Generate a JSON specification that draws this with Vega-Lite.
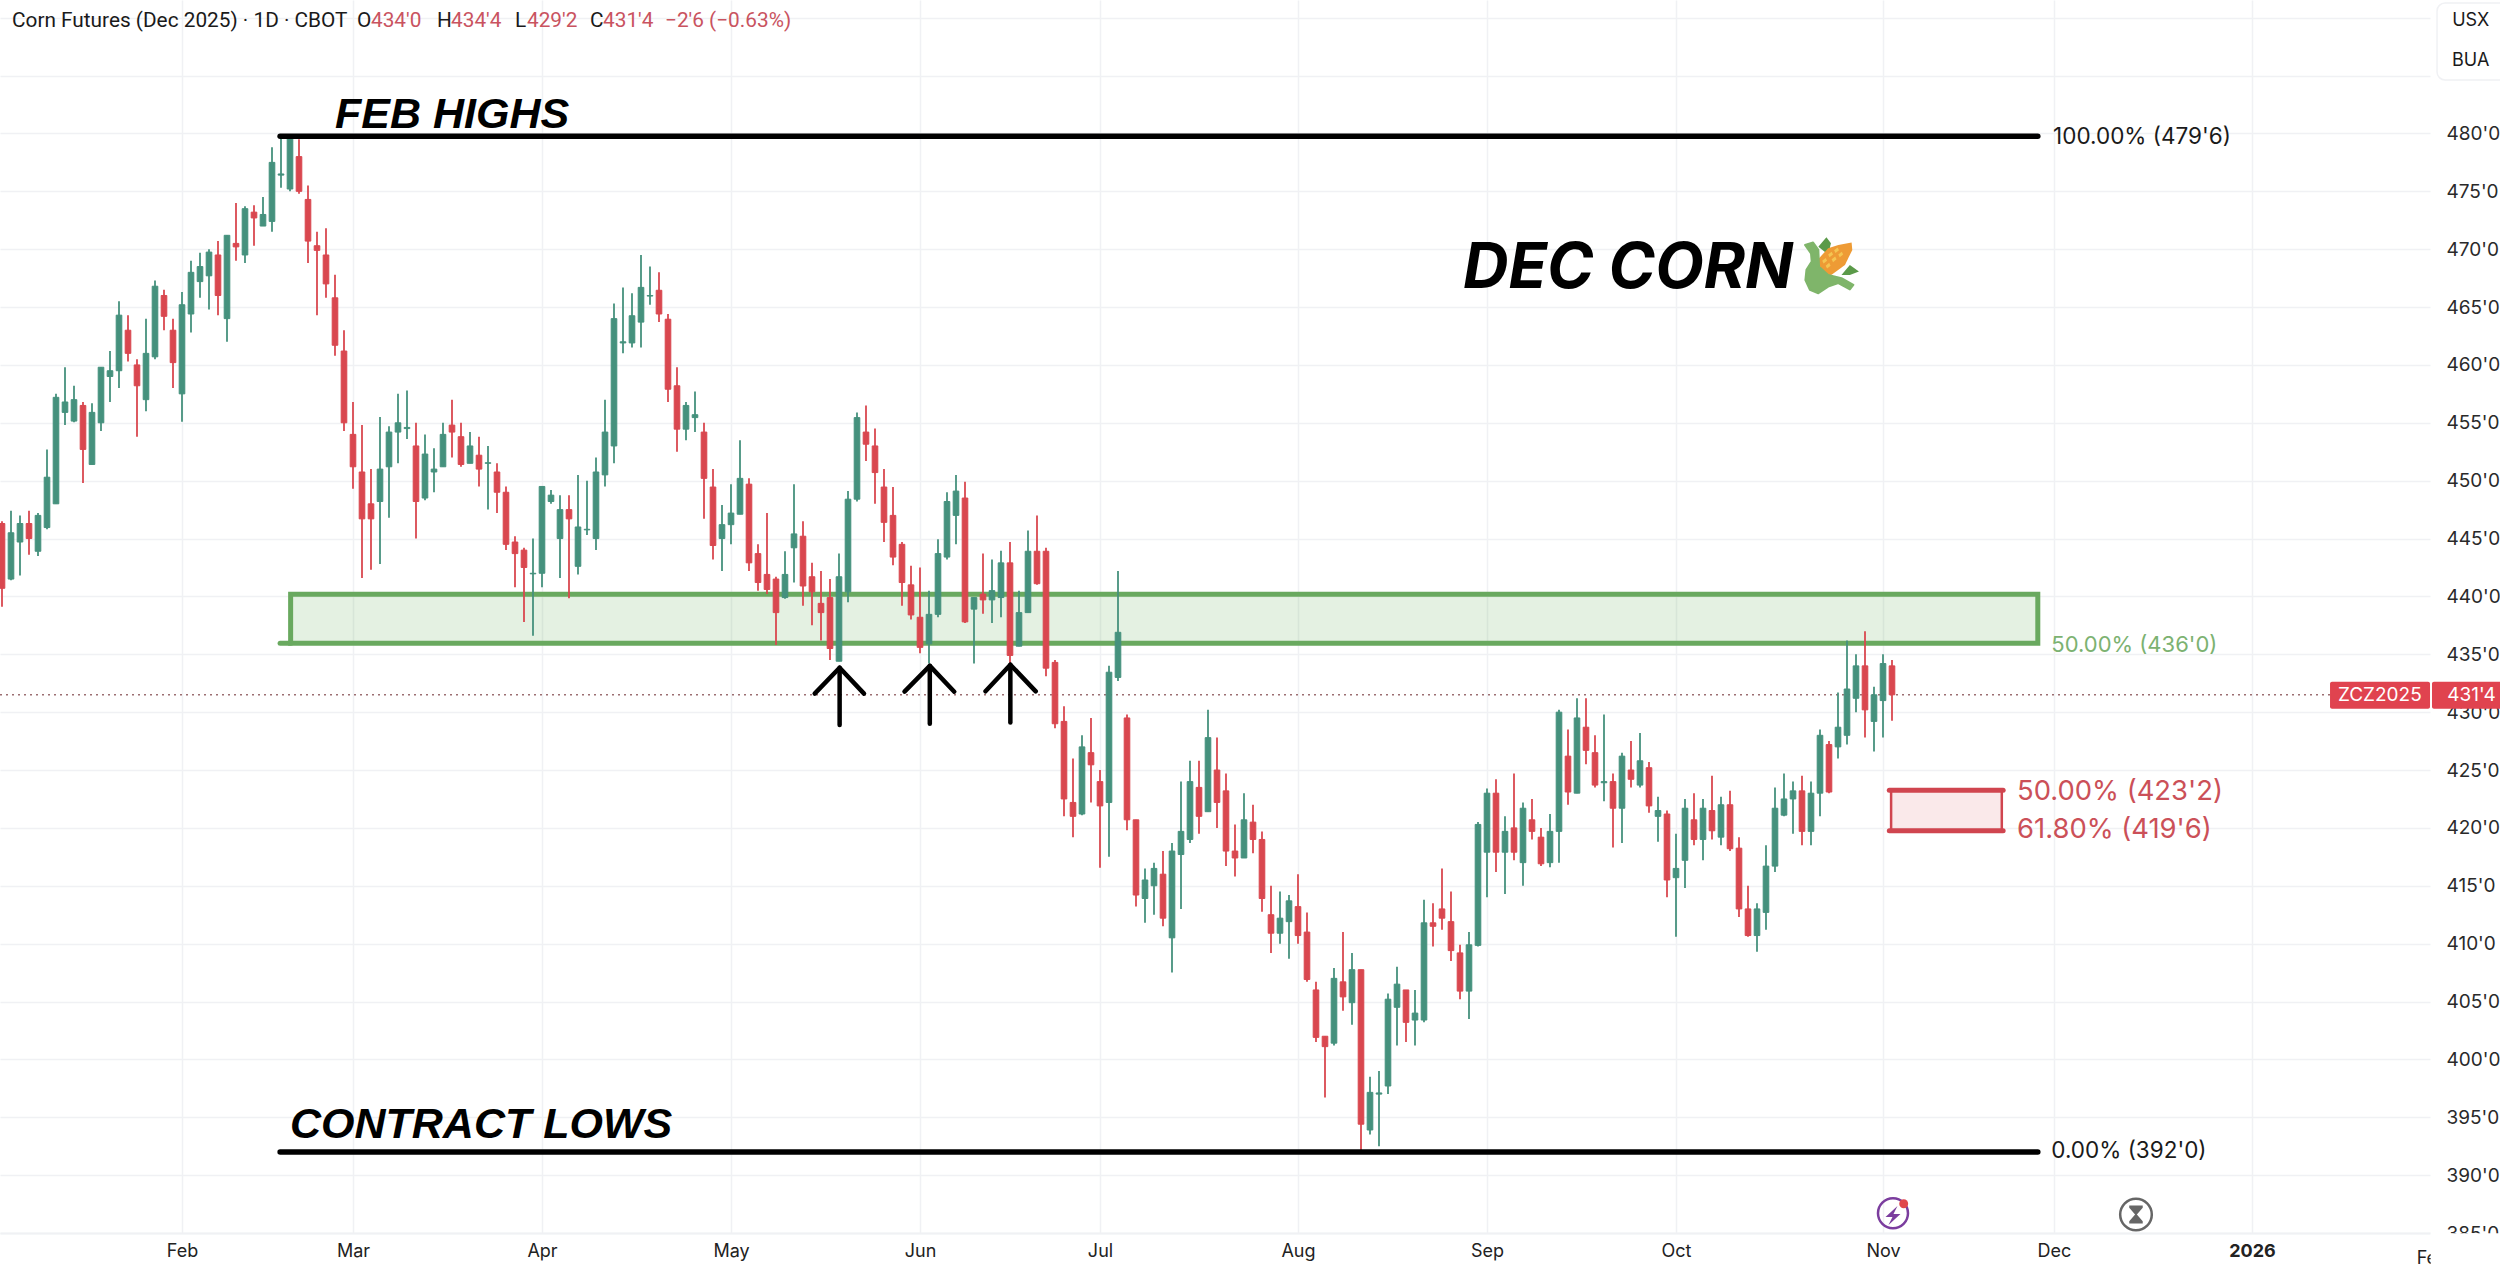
{"$schema":"https://vega.github.io/schema/vega-lite/v6.json","width":2430,"height":1233,"autosize":{"type":"none"},"padding":{"left":0,"top":0,"right":70,"bottom":43},"background":"white","view":{"stroke":null},
"encoding":{
"x":{"type":"quantitative","scale":{"domain":[-0.222,269.778],"nice":false,"zero":false,"padding":0},"axis":{"title":null,"values":[20,39,60,81,102,122,144,165,186,209,228,250],"labelExpr":"{'20':'Feb','39':'Mar','60':'Apr','81':'May','102':'Jun','122':'Jul','144':'Aug','165':'Sep','186':'Oct','209':'Nov','228':'Dec','250':'2026'}[datum.value]","grid":true,"gridColor":"#f0f1f4","gridWidth":1.5,"domainColor":"#f0f1f4","domainWidth":2,"ticks":false,"labelFont":"Inter","labelFontSize":18,"labelColor":"#222222","labelPadding":18,"labelBaseline":"middle","labelOverlap":false,"labelFontWeight":{"condition":{"test":"datum.value===250","value":"bold"},"value":"normal"},"labelFlush":false}},
"y":{"type":"quantitative","scale":{"domain":[385,491.53],"nice":false,"zero":false},"axis":{"orient":"right","title":null,"values":[385,390,395,400,405,410,415,420,425,430,435,440,445,450,455,460,465,470,475,480,485,490],"labelExpr":"datum.value>480?'':datum.value+\"'0\"","grid":true,"gridColor":"#f0f1f4","gridWidth":1.5,"domain":false,"ticks":false,"labelFont":"Inter","labelFontSize":19,"labelColor":"#2a2a2a","labelAlign":"left","labelPadding":16,"labelOverlap":false,"labelFlush":false}}},
"datasets":{"candles":[
{"i":0,"o":446.3,"h":446.5,"l":439.1,"c":440.7},{"i":1,"o":441.5,"h":447.4,"l":441.4,"c":445.5},{"i":2,"o":444.7,"h":447,"l":441.8,"c":446.3},{"i":3,"o":446.3,"h":447.4,"l":443.6,"c":445},{"i":4,"o":443.9,"h":447.2,"l":443.5,"c":447},{"i":5,"o":445.95,"h":452.7,"l":445.8,"c":450.3},{"i":6,"o":448,"h":457.5,"l":448,"c":457.2},{"i":7,"o":455.9,"h":459.8,"l":454.8,"c":456.8},{"i":8,"o":455.15,"h":458.2,"l":455.05,"c":457},{"i":9,"o":456.5,"h":456.8,"l":449.8,"c":452.7},
{"i":10,"o":451.4,"h":456.7,"l":451.4,"c":455.9},{"i":11,"o":455,"h":459.8,"l":454.3,"c":459.8},{"i":12,"o":459,"h":461.2,"l":456.8,"c":459.5},{"i":13,"o":459.5,"h":465.5,"l":458,"c":464.3},{"i":14,"o":463,"h":464.3,"l":460.3,"c":461},{"i":15,"o":460,"h":460.5,"l":453.8,"c":458.2},{"i":16,"o":457,"h":464,"l":456,"c":461},{"i":17,"o":460.7,"h":467.3,"l":460.5,"c":466.8},{"i":18,"o":466,"h":466.5,"l":463,"c":464.2},{"i":19,"o":463,"h":464,"l":458,"c":460.2},
{"i":20,"o":457.5,"h":466.3,"l":455.1,"c":465.2},{"i":21,"o":464.4,"h":469,"l":462.8,"c":468},{"i":22,"o":467.2,"h":469.7,"l":465.8,"c":468.5},{"i":23,"o":467.7,"h":470,"l":464.8,"c":469.75},{"i":24,"o":469.5,"h":470.7,"l":464.3,"c":466},{"i":25,"o":464,"h":471.2,"l":462,"c":471.2},{"i":26,"o":470.5,"h":474,"l":469,"c":470.2},{"i":27,"o":469.5,"h":473.7,"l":468.8,"c":473.5},{"i":28,"o":473.2,"h":473.8,"l":470.3,"c":472.7},{"i":29,"o":472,"h":474.5,"l":472,"c":473},
{"i":30,"o":472.4,"h":478.8,"l":471.5,"c":477.5},{"i":31,"o":476.4,"h":479.75,"l":475.3,"c":476.5},{"i":32,"o":475.2,"h":479.75,"l":475,"c":479.6},{"i":33,"o":478,"h":479.5,"l":474.8,"c":475},{"i":34,"o":474.3,"h":475.5,"l":468.8,"c":470.7},{"i":35,"o":470.3,"h":471.5,"l":464.3,"c":469.9},{"i":36,"o":469.5,"h":471.8,"l":465.8,"c":467},{"i":37,"o":465.8,"h":467.8,"l":460.8,"c":461.7},{"i":38,"o":461.2,"h":463,"l":454.3,"c":455},{"i":39,"o":454,"h":456.8,"l":449.3,"c":451.2},
{"i":40,"o":450.75,"h":454.8,"l":441.6,"c":446.7},{"i":41,"o":448,"h":451,"l":442.3,"c":446.7},{"i":42,"o":448.2,"h":455.5,"l":442.8,"c":451},{"i":43,"o":451.2,"h":454.7,"l":446.8,"c":454.2},{"i":44,"o":454.2,"h":457.5,"l":451.5,"c":455},{"i":45,"o":454.5,"h":457.8,"l":453.6,"c":454.6},{"i":46,"o":453,"h":455,"l":445,"c":448.2},{"i":47,"o":448.5,"h":454,"l":448.3,"c":452.3},{"i":48,"o":450.75,"h":452.8,"l":449,"c":451},{"i":49,"o":451.2,"h":455,"l":451.2,"c":454},
{"i":50,"o":454.8,"h":457,"l":452,"c":454.2},{"i":51,"o":453.8,"h":455,"l":451.2,"c":451.4},{"i":52,"o":451.5,"h":454.2,"l":451.5,"c":453},{"i":53,"o":452.2,"h":453.8,"l":449.5,"c":451},{"i":54,"o":451.5,"h":453,"l":447.5,"c":451.55},{"i":55,"o":450.75,"h":451.5,"l":447.2,"c":449},{"i":56,"o":449,"h":449.5,"l":444,"c":444.5},{"i":57,"o":444.7,"h":445.2,"l":440.8,"c":443.7},{"i":58,"o":444,"h":444.2,"l":437.8,"c":442.5},{"i":59,"o":441.95,"h":445,"l":436.6,"c":442},
{"i":60,"o":442,"h":449.5,"l":440.8,"c":449.5},{"i":61,"o":448.2,"h":449.2,"l":448,"c":448.75},{"i":62,"o":445,"h":448.75,"l":441.6,"c":447.5},{"i":63,"o":447.5,"h":448.75,"l":439.85,"c":446.7},{"i":64,"o":442.6,"h":450.5,"l":441.9,"c":446},{"i":65,"o":445.75,"h":450,"l":445.3,"c":445.8},{"i":66,"o":445,"h":452,"l":444,"c":450.75},{"i":67,"o":450.5,"h":457,"l":449.5,"c":454.2},{"i":68,"o":453,"h":465.3,"l":451.5,"c":464},{"i":69,"o":461.9,"h":466.7,"l":461,"c":462},
{"i":70,"o":461.9,"h":466.2,"l":461.5,"c":464.25},{"i":71,"o":463.7,"h":469.5,"l":461.5,"c":466.7},{"i":72,"o":465.95,"h":468.5,"l":465.2,"c":466},{"i":73,"o":466.45,"h":468,"l":463.7,"c":464.4},{"i":74,"o":463.95,"h":464.4,"l":456.8,"c":457.9},{"i":75,"o":458.2,"h":459.8,"l":452.5,"c":454.45},{"i":76,"o":454.45,"h":456.8,"l":453.5,"c":456.5},{"i":77,"o":455.45,"h":457.7,"l":454.2,"c":455.7},{"i":78,"o":454.2,"h":455,"l":446.7,"c":450.2},{"i":79,"o":449.45,"h":451,"l":443.2,"c":444.4},
{"i":80,"o":445,"h":447.9,"l":442.2,"c":446.2},{"i":81,"o":446.2,"h":449.7,"l":444.5,"c":447.2},{"i":82,"o":447.1,"h":453.5,"l":447.1,"c":450.2},{"i":83,"o":449.7,"h":450.2,"l":442.2,"c":442.9},{"i":84,"o":443.7,"h":444.5,"l":440.5,"c":441.2},{"i":85,"o":441.9,"h":447.2,"l":440.2,"c":440.6},{"i":86,"o":441.5,"h":441.7,"l":435.8,"c":438.6},{"i":87,"o":439.9,"h":443.9,"l":439.8,"c":441.9},{"i":88,"o":444.2,"h":449.7,"l":441.2,"c":445.4},{"i":89,"o":445.2,"h":446.5,"l":439.2,"c":440.9},
{"i":90,"o":441.7,"h":442.9,"l":437.5,"c":440.4},{"i":91,"o":439.4,"h":442.2,"l":436.2,"c":438.6},{"i":92,"o":439.9,"h":441.5,"l":434.5,"c":435.5},{"i":93,"o":434.4,"h":443.7,"l":434.4,"c":441.7},{"i":94,"o":440.4,"h":449.1,"l":439.5,"c":448.4},{"i":95,"o":448.4,"h":455.9,"l":448.2,"c":455.45},{"i":96,"o":454.2,"h":456.5,"l":451.7,"c":453.15},{"i":97,"o":453,"h":454.5,"l":448,"c":450.7},{"i":98,"o":449.45,"h":451,"l":444.7,"c":446.4},{"i":99,"o":447,"h":449.45,"l":442.7,"c":443.4},
{"i":100,"o":444.5,"h":444.7,"l":439.2,"c":441.2},{"i":101,"o":441,"h":442.65,"l":438,"c":438.4},{"i":102,"o":438.2,"h":442.5,"l":435.1,"c":435.6},{"i":103,"o":435.9,"h":440.5,"l":434.2,"c":438.45},{"i":104,"o":438.45,"h":444.95,"l":438.2,"c":443.7},{"i":105,"o":443.4,"h":449,"l":443.2,"c":448.2},{"i":106,"o":447,"h":450.5,"l":444.5,"c":449.1},{"i":107,"o":448.5,"h":449.9,"l":437.7,"c":437.8},{"i":108,"o":438.9,"h":439.9,"l":434.2,"c":439.9},{"i":109,"o":440.2,"h":443.7,"l":438.5,"c":439.7},
{"i":110,"o":439.7,"h":443.2,"l":437.7,"c":440.5},{"i":111,"o":439.9,"h":443.95,"l":438.2,"c":442.9},{"i":112,"o":442.9,"h":444.7,"l":434,"c":434.9},{"i":113,"o":435.7,"h":440.5,"l":435.7,"c":438.6},{"i":114,"o":438.6,"h":445.7,"l":438.6,"c":443.9},{"i":115,"o":443.9,"h":447,"l":441,"c":441.1},{"i":116,"o":443.9,"h":444.2,"l":433.1,"c":433.8},{"i":117,"o":434.3,"h":434.5,"l":428.6,"c":429},{"i":118,"o":429.2,"h":430.5,"l":421,"c":422.5},{"i":119,"o":422.2,"h":426,"l":419.2,"c":421},
{"i":120,"o":421.2,"h":428,"l":421.1,"c":427},{"i":121,"o":426.5,"h":429.5,"l":422.2,"c":425.45},{"i":122,"o":424,"h":425,"l":416.55,"c":421.9},{"i":123,"o":422.2,"h":434,"l":417.5,"c":433.45},{"i":124,"o":433,"h":442.2,"l":432.7,"c":436.9},{"i":125,"o":429.5,"h":429.8,"l":419.8,"c":420.7},{"i":126,"o":420.7,"h":420.7,"l":413.2,"c":414.2},{"i":127,"o":413.9,"h":416.5,"l":411.8,"c":415.5},{"i":128,"o":415,"h":417,"l":412.5,"c":416.5},{"i":129,"o":416,"h":418,"l":411.5,"c":412.2},
{"i":130,"o":410.5,"h":418.7,"l":407.5,"c":418},{"i":131,"o":417.7,"h":424,"l":413,"c":419.7},{"i":132,"o":419,"h":425.8,"l":418.7,"c":424},{"i":133,"o":423.5,"h":425.8,"l":419.5,"c":421},{"i":134,"o":421.4,"h":430.2,"l":421.4,"c":427.8},{"i":135,"o":425,"h":427.8,"l":420,"c":422.2},{"i":136,"o":423.2,"h":424.7,"l":416.7,"c":418},{"i":137,"o":418,"h":420.3,"l":415.8,"c":417.4},{"i":138,"o":417.4,"h":423,"l":417.4,"c":420.7},{"i":139,"o":420.5,"h":422,"l":417.8,"c":419},
{"i":140,"o":419,"h":419.7,"l":412.75,"c":413.9},{"i":141,"o":412.5,"h":415,"l":409.2,"c":410.9},{"i":142,"o":410.9,"h":414.5,"l":410,"c":412.2},{"i":143,"o":411.9,"h":414.2,"l":408.7,"c":413.7},{"i":144,"o":413.2,"h":416,"l":410,"c":410.7},{"i":145,"o":411,"h":412.7,"l":406.7,"c":406.9},{"i":146,"o":406,"h":406.7,"l":401.5,"c":401.9},{"i":147,"o":402,"h":402,"l":396.7,"c":401.1},{"i":148,"o":401.4,"h":407.9,"l":401.2,"c":407},{"i":149,"o":406.7,"h":411,"l":404.2,"c":405.4},
{"i":150,"o":404.9,"h":409.2,"l":403,"c":407.75},{"i":151,"o":407.75,"h":407.75,"l":392,"c":394.4},{"i":152,"o":393.9,"h":398.5,"l":393.5,"c":397.15},{"i":153,"o":397,"h":399,"l":392.5,"c":397.1},{"i":154,"o":397.7,"h":405.7,"l":397,"c":405.2},{"i":155,"o":404.5,"h":408,"l":401.2,"c":406.5},{"i":156,"o":406,"h":406,"l":401.5,"c":403.2},{"i":157,"o":403.4,"h":406,"l":401.2,"c":404},{"i":158,"o":403.4,"h":413.8,"l":403.2,"c":411.8},{"i":159,"o":411.8,"h":413.5,"l":409.75,"c":411.5},
{"i":160,"o":413,"h":416.5,"l":411.2,"c":412.2},{"i":161,"o":411.9,"h":414.5,"l":408.5,"c":409.4},{"i":162,"o":409.2,"h":409.9,"l":405.2,"c":405.9},{"i":163,"o":405.9,"h":411,"l":403.5,"c":409.9},{"i":164,"o":409.85,"h":420.5,"l":409.75,"c":420.3},{"i":165,"o":417.9,"h":423.4,"l":414,"c":423},{"i":166,"o":423,"h":424.2,"l":416.2,"c":417.9},{"i":167,"o":417.9,"h":421,"l":414.3,"c":419.7},{"i":168,"o":420,"h":424.7,"l":417.2,"c":417.9},{"i":169,"o":417,"h":422.2,"l":415,"c":421.7},
{"i":170,"o":420.7,"h":422.5,"l":419,"c":419.7},{"i":171,"o":419.2,"h":420,"l":416.7,"c":416.9},{"i":172,"o":417,"h":421.2,"l":416.6,"c":419.7},{"i":173,"o":419.7,"h":430.2,"l":417,"c":430},{"i":174,"o":426.2,"h":428.5,"l":422,"c":423.1},{"i":175,"o":423,"h":431.2,"l":423,"c":429.5},{"i":176,"o":428.7,"h":431.2,"l":425.5,"c":426.7},{"i":177,"o":426.5,"h":428,"l":423.5,"c":423.7},{"i":178,"o":423.9,"h":429.8,"l":422.3,"c":424},{"i":179,"o":424,"h":424.7,"l":418.3,"c":421.7},
{"i":180,"o":421.7,"h":426.5,"l":418.7,"c":426.2},{"i":181,"o":425,"h":427.5,"l":423.5,"c":424.2},{"i":182,"o":423.7,"h":428.2,"l":423.5,"c":425.8},{"i":183,"o":425.2,"h":425.7,"l":421.3,"c":421.9},{"i":184,"o":421,"h":422.7,"l":418.8,"c":421.5},{"i":185,"o":421.2,"h":421.5,"l":414,"c":415.5},{"i":186,"o":415.7,"h":419.5,"l":410.6,"c":416.5},{"i":187,"o":417.2,"h":422.5,"l":414.8,"c":421.7},{"i":188,"o":420.7,"h":423,"l":418.5,"c":419},{"i":189,"o":419,"h":422.5,"l":417.2,"c":421.7},
{"i":190,"o":421.5,"h":424.5,"l":419,"c":419.75},{"i":191,"o":419.2,"h":422.7,"l":418.5,"c":422},{"i":192,"o":422,"h":423.2,"l":418,"c":418.2},{"i":193,"o":418.25,"h":419.2,"l":412.3,"c":413},{"i":194,"o":413,"h":415,"l":410.6,"c":410.7},{"i":195,"o":410.7,"h":413.5,"l":409.3,"c":413},{"i":196,"o":412.7,"h":418.5,"l":411.2,"c":416.7},{"i":197,"o":416.7,"h":423.5,"l":416.2,"c":421.7},{"i":198,"o":421.1,"h":424.7,"l":421,"c":422.5},{"i":199,"o":422.5,"h":424,"l":419.5,"c":423.2},
{"i":200,"o":423.2,"h":424.5,"l":418.5,"c":419.7},{"i":201,"o":419.7,"h":424,"l":418.5,"c":423},{"i":202,"o":423,"h":428.5,"l":421,"c":428},{"i":203,"o":427.2,"h":427.5,"l":423,"c":423.1},{"i":204,"o":427,"h":431.7,"l":426,"c":428.7},{"i":205,"o":428,"h":436.2,"l":427.2,"c":432},{"i":206,"o":431.2,"h":435,"l":430,"c":434},{"i":207,"o":434,"h":437,"l":427.8,"c":430.2},{"i":208,"o":429.2,"h":432.2,"l":426.6,"c":431.5},{"i":209,"o":431,"h":435,"l":427.8,"c":434.2},
{"i":210,"o":434,"h":434.5,"l":429.25,"c":431.5}]},
"layer":[
{"data":{"values":[{"i":-0.222,"i2":258.67,"v":431.5}]},"mark":{"type":"rule","stroke":"#9c6f72","strokeWidth":1.5,"strokeDash":[2,4]},"encoding":{"x":{"field":"i"},"x2":{"field":"i2"},"y":{"field":"v"}}},
{"data":{"values":[{"i":32.07,"i2":226.2,"v":440.18,"v2":435.95}]},"mark":{"type":"rect","fill":"#5aa84a","fillOpacity":0.16,"stroke":"#69a95f","strokeWidth":5},"encoding":{"x":{"field":"i"},"x2":{"field":"i2"},"y":{"field":"v"},"y2":{"field":"v2"}}},
{"data":{"values":[{"i":30.9,"i2":32.1,"v":435.95}]},"mark":{"type":"rule","stroke":"#69a95f","strokeWidth":5,"strokeCap":"round"},"encoding":{"x":{"field":"i"},"x2":{"field":"i2"},"y":{"field":"v"}}},
{"data":{"name":"candles"},"mark":{"type":"rule","strokeWidth":1.8},"encoding":{"x":{"field":"i"},"y":{"field":"l"},"y2":{"field":"h"},"color":{"condition":{"test":"datum.c>=datum.o","value":"#45917d"},"value":"#d9474f"}}},
{"data":{"name":"candles"},"mark":{"type":"bar","size":5.6,"strokeWidth":1,"orient":"vertical"},"encoding":{"x":{"field":"i"},"y":{"field":"o"},"y2":{"field":"c"},"fill":{"condition":{"test":"datum.c>=datum.o","value":"#45917d"},"value":"#d9474f"},"stroke":{"condition":{"test":"datum.c>=datum.o","value":"#45917d"},"value":"#d9474f"}}},
{"data":{"values":[{"i":30.9,"i2":226.2,"v":479.75},{"i":30.9,"i2":226.2,"v":392}]},"mark":{"type":"rule","stroke":"#000000","strokeWidth":5.5,"strokeCap":"round"},"encoding":{"x":{"field":"i"},"x2":{"field":"i2"},"y":{"field":"v"}}},
{"data":{"values":[{"i":209.9,"i2":222.2,"v":423.25,"v2":419.75}]},"mark":{"type":"rect","fill":"#d9474f","fillOpacity":0.12,"stroke":"#d0454f","strokeWidth":2.5},"encoding":{"x":{"field":"i"},"x2":{"field":"i2"},"y":{"field":"v"},"y2":{"field":"v2"}}},
{"data":{"values":[{"i":209.7,"i2":222.35,"v":423.25},{"i":209.7,"i2":222.35,"v":419.75}]},"mark":{"type":"rule","stroke":"#d0454f","strokeWidth":5,"strokeCap":"round"},"encoding":{"x":{"field":"i"},"x2":{"field":"i2"},"y":{"field":"v"}}},
{"data":{"values":[
{"g":"a1h","s":0,"i":90.3,"v":431.6},{"g":"a1h","s":1,"i":93.07,"v":433.84},{"g":"a1h","s":2,"i":95.78,"v":431.6},{"g":"a1s","s":0,"i":93.07,"v":433.84},{"g":"a1s","s":1,"i":93.07,"v":428.9},
{"g":"a2h","s":0,"i":100.28,"v":431.77},{"g":"a2h","s":1,"i":103.09,"v":434},{"g":"a2h","s":2,"i":105.81,"v":431.77},{"g":"a2s","s":0,"i":103.09,"v":434},{"g":"a2s","s":1,"i":103.09,"v":429},
{"g":"a3h","s":0,"i":109.28,"v":431.8},{"g":"a3h","s":1,"i":112.04,"v":434.1},{"g":"a3h","s":2,"i":114.86,"v":431.8},{"g":"a3s","s":0,"i":112.04,"v":434.1},{"g":"a3s","s":1,"i":112.04,"v":429.1}]},
"mark":{"type":"line","stroke":"#000000","strokeWidth":4.5,"strokeCap":"round","strokeJoin":"round"},"encoding":{"x":{"field":"i"},"y":{"field":"v"},"detail":{"field":"g"},"order":{"field":"s"}}},
{"data":{"values":[{"t":"FEB HIGHS","i":37,"v":480.47},{"t":"CONTRACT LOWS","i":32,"v":393.2}]},"mark":{"type":"text","font":"Liberation Sans","fontWeight":"bold","fontStyle":"italic","fontSize":43,"align":"left","baseline":"alphabetic","color":"#000000"},"encoding":{"x":{"field":"i"},"y":{"field":"v"},"text":{"field":"t"}}},
{"data":{"values":[{"t":"DEC CORN","i":162.33,"v":466.66}]},"mark":{"type":"text","font":"Inter","fontWeight":"bold","fontStyle":"italic","fontSize":63,"align":"left","baseline":"alphabetic","color":"#000000"},"encoding":{"x":{"field":"i"},"y":{"field":"v"},"text":{"field":"t"}}},
{"data":{"values":[{"i":203.1,"v":468.64}]},"mark":{"type":"point","filled":true,"size":4900,"color":"#5b9a49","opacity":1,"strokeWidth":0,"shape":"M-.33 -.52 L-.1 -.79 L.03 -.62 L-.05 -.3 Z M.33 .29 L.57 0 L.83 .19 L.57 .29 Z"},"encoding":{"x":{"field":"i"},"y":{"field":"v"}}},
{"data":{"values":[{"i":203.1,"v":468.64}]},"mark":{"type":"point","filled":true,"size":4900,"color":"#ee9b35","opacity":1,"strokeWidth":0,"shape":"M-.33 .2 L-.31 -.19 L-.05 -.48 L.24 -.57 L.62 -.64 L.64 -.43 L.43 0 L.05 .28 L-.2 .32 Z"},"encoding":{"x":{"field":"i"},"y":{"field":"v"}}},
{"data":{"values":[{"i":203.1,"v":468.64}]},"mark":{"type":"point","filled":true,"size":4900,"color":"#f4c552","opacity":1,"strokeWidth":0,"shape":"M-.22 -.12 L-.12 -.2 L-.08 -.12 L-.18 -.04 Z M-.05 -.3 L.05 -.38 L.09 -.3 L-.01 -.22 Z M.12 -.42 L.22 -.5 L.26 -.42 L.16 -.34 Z M-.12 .02 L-.02 -.06 L.02 .02 L-.08 .1 Z M.05 -.16 L.15 -.24 L.19 -.16 L.09 -.08 Z M.24 -.3 L.34 -.38 L.38 -.3 L.28 -.22 Z"},"encoding":{"x":{"field":"i"},"y":{"field":"v"}}},
{"data":{"values":[{"i":203.1,"v":468.64}]},"mark":{"type":"point","filled":true,"size":4900,"fill":"#7fb56a","stroke":"#7fb56a","strokeWidth":2,"strokeJoin":"round","opacity":1,"shape":"M-.71 -.57 L-.48 -.64 L-.33 -.43 L-.31 .05 L-.05 .29 L.33 .38 L.67 .57 L.57 .7 L.24 .52 L-.05 .62 L-.33 .81 L-.57 .71 L-.7 .43 L-.67 .14 L-.52 -.1 L-.54 -.33 Z"},"encoding":{"x":{"field":"i"},"y":{"field":"v"}}},
{"data":{"values":[{"t":"100.00% (479'6)","i":227.9,"v":479.7},{"t":"0.00% (392'0)","i":227.7,"v":392.05}]},"mark":{"type":"text","font":"Inter","fontSize":22.5,"align":"left","baseline":"middle","color":"#1a1a1a"},"encoding":{"x":{"field":"i"},"y":{"field":"v"},"text":{"field":"t"}}},
{"data":{"values":[{"t":"50.00% (436'0)","i":227.7,"v":435.83}]},"mark":{"type":"text","font":"Inter","fontSize":22,"align":"left","baseline":"middle","color":"#7cb271"},"encoding":{"x":{"field":"i"},"y":{"field":"v"},"text":{"field":"t"}}},
{"data":{"values":[{"t":"50.00% (423'2)","i":223.9,"v":423.13},{"t":"61.80% (419'6)","i":223.9,"v":419.81}]},"mark":{"type":"text","font":"Inter","fontSize":27.4,"align":"left","baseline":"middle","color":"#cb5058"},"encoding":{"x":{"field":"i"},"y":{"field":"v"},"text":{"field":"t"}}},
{"data":{"values":[{"t":"Corn Futures (Dec 2025) · 1D · CBOT","i":1.11,"v":489.71},{"t":"O","i":39.44,"v":489.71},{"t":"H","i":48.33,"v":489.71},{"t":"L","i":57,"v":489.71},{"t":"C","i":65.33,"v":489.71}]},"mark":{"type":"text","font":"Roboto","fontSize":20.8,"align":"left","baseline":"middle","color":"#1a1a1a"},"encoding":{"x":{"field":"i"},"y":{"field":"v"},"text":{"field":"t"}}},
{"data":{"values":[{"t":"434'0","i":41,"v":489.71},{"t":"434'4","i":49.89,"v":489.71},{"t":"429'2","i":58.33,"v":489.71},{"t":"431'4","i":66.78,"v":489.71},{"t":"−2'6 (−0.63%)","i":73.67,"v":489.71}]},"mark":{"type":"text","font":"Roboto","fontSize":20.8,"align":"left","baseline":"middle","color":"#c9535f"},"encoding":{"x":{"field":"i"},"y":{"field":"v"},"text":{"field":"t"}}},
{"data":{"values":[{"i":270.56,"i2":282,"v":491.27,"v2":484.62}]},"mark":{"type":"rect","fill":"#ffffff","stroke":"#f0f1f4","strokeWidth":1.5,"cornerRadius":8},"encoding":{"x":{"field":"i"},"x2":{"field":"i2"},"y":{"field":"v"},"y2":{"field":"v2"}}},
{"data":{"values":[{"t":"USX","i":274.3,"v":489.7},{"t":"BUA","i":274.3,"v":486.26}]},"mark":{"type":"text","font":"Inter","fontSize":18,"align":"center","baseline":"middle","color":"#1a1a1a"},"encoding":{"x":{"field":"i"},"y":{"field":"v"},"text":{"field":"t"}}},
{"data":{"values":[{"t":"Fe","i":268.3,"v":382.72}]},"mark":{"type":"text","font":"Inter","fontSize":18,"align":"left","baseline":"middle","color":"#222222"},"encoding":{"x":{"field":"i"},"y":{"field":"v"},"text":{"field":"t"}}},
{"data":{"values":[{"i":269.85,"i2":279,"v":384.98,"v2":381}]},"mark":{"type":"rect","fill":"#ffffff"},"encoding":{"x":{"field":"i"},"x2":{"field":"i2"},"y":{"field":"v"},"y2":{"field":"v2"}}},
{"data":{"values":[{"i":258.67,"i2":269.78,"v":432.63,"v2":430.3},{"i":270,"i2":279,"v":432.63,"v2":430.3}]},"mark":{"type":"rect","fill":"#e0434f","cornerRadius":2},"encoding":{"x":{"field":"i"},"x2":{"field":"i2"},"y":{"field":"v"},"y2":{"field":"v2"}}},
{"data":{"values":[{"t":"ZCZ2025","i":264.2,"v":431.5},{"t":"431'4","i":274.4,"v":431.5}]},"mark":{"type":"text","font":"Inter","fontSize":19,"align":"center","baseline":"middle","color":"#ffffff"},"encoding":{"x":{"field":"i"},"y":{"field":"v"},"text":{"field":"t"}}},
{"data":{"values":[{"i":210.11,"v":386.7}]},"mark":{"type":"point","shape":"circle","size":900,"stroke":"#7b3d9e","strokeWidth":2.5,"opacity":1,"filled":false},"encoding":{"x":{"field":"i"},"y":{"field":"v"}}},
{"data":{"values":[{"i":210.11,"v":386.52}]},"mark":{"type":"point","filled":true,"size":400,"color":"#7b3d9e","opacity":1,"strokeWidth":0,"shape":"M.45 -.95 L-.75 .15 L-.05 .15 L-.45 .95 L.75 -.15 L.05 -.15 Z"},"encoding":{"x":{"field":"i"},"y":{"field":"v"}}},
{"data":{"values":[{"i":211.3,"v":387.53}]},"mark":{"type":"point","shape":"circle","filled":true,"size":80,"color":"#e0474c","opacity":1},"encoding":{"x":{"field":"i"},"y":{"field":"v"}}},
{"data":{"values":[{"i":237.11,"v":386.6}]},"mark":{"type":"point","shape":"circle","size":1000,"stroke":"#666666","strokeWidth":2.5,"opacity":1,"filled":false},"encoding":{"x":{"field":"i"},"y":{"field":"v"}}},
{"data":{"values":[{"i":237.11,"v":386.6}]},"mark":{"type":"point","filled":true,"size":324,"color":"#666666","opacity":1,"strokeWidth":0,"shape":"M-.75 -1 L.75 -1 L.75 -.75 L.1 0 L.75 .75 L.75 1 L-.75 1 L-.75 .75 L-.1 0 L-.75 -.75 Z"},"encoding":{"x":{"field":"i"},"y":{"field":"v"}}}
]}
